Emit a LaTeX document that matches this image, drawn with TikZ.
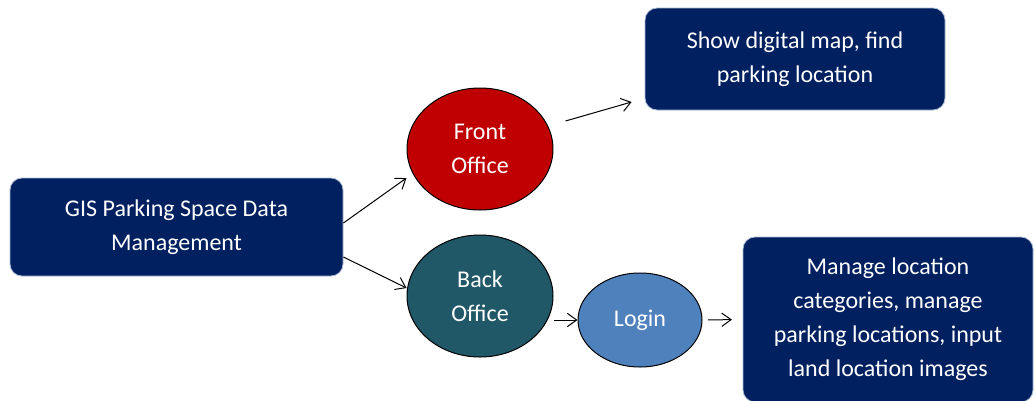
\documentclass[tikz,border=0pt]{standalone}
\usepackage{fontspec}
\setmainfont{Carlito}
\usetikzlibrary{arrows.meta,shapes.geometric}
\definecolor{navy}{RGB}{0,32,96}
\definecolor{frontred}{RGB}{192,0,0}
\definecolor{backteal}{RGB}{33,88,104}
\definecolor{loginblue}{RGB}{79,129,189}
\definecolor{boxedge}{RGB}{170,185,210}
\begin{document}
\begin{tikzpicture}[x=0.75pt, y=-0.75pt, font=\fontsize{18}{25.5}\selectfont]
  \tikzstyle{task}=[draw=boxedge, line width=0.6pt, fill=navy, text=white,
                    rounded corners=9pt, align=center, inner sep=0pt]
  \tikzstyle{office}=[ellipse, draw=black, line width=0.75pt, text=white,
                      align=center, inner sep=0pt, minimum width=109.5pt, minimum height=91.5pt]
  \tikzstyle{link}=[line width=0.75pt, -{Straight Barb[length=7pt,width=10pt]}]
  \useasboundingbox (0,0) rectangle (1035,400);
  % boxes
  \node[task, minimum width=249.75pt, minimum height=73.5pt] (gis) at (176.5,227)
       {GIS Parking Space Data\\Management};
  \node[task, minimum width=225pt, minimum height=76.5pt] (show) at (795,59)
       {Show digital map, find\\parking location};
  \node[task, minimum width=217.5pt, minimum height=123.75pt] (manage) at (888,319.5)
       {Manage location\\categories, manage\\parking locations, input\\land location images};
  % ellipses
  \node[office, fill=frontred] (front) at (480,149) {Front\\Office};
  \node[office, fill=backteal] (back) at (480,296) {Back\\Office};
  \node[office, fill=loginblue, minimum width=93pt, minimum height=70.5pt] (login) at (640,320)
       {\raisebox{3pt}{Login}};
  % arrows
  \draw[link] ([yshift=3pt]gis.east) -- ([yshift=-21.75pt]front.west);
  \draw[link] ([yshift=-22.5pt]gis.east) -- ([yshift=6pt]back.west);
  \draw[link] ([xshift=9pt,yshift=21pt]front.east) -- ([xshift=-9.75pt,yshift=-32.25pt]show.west);
  \draw[link] (back.east |- login.west) -- (login.west);
  \draw[link, shorten <=4pt, shorten >=8pt] (login.east) -- (manage.west);
\end{tikzpicture}
\end{document}
